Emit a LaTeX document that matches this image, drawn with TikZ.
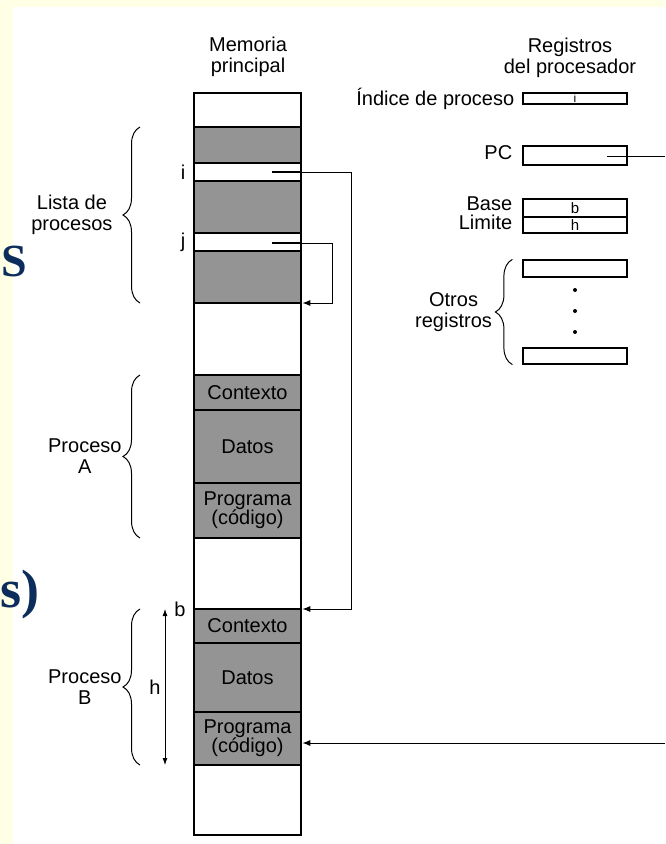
\documentclass[tikz,border=0pt]{standalone}
\usepackage{fontspec}
\setmainfont{Liberation Sans}
\newfontfamily\slidefont{Liberation Serif}
\usepackage{xcolor}
\usetikzlibrary{positioning, arrows.meta, decorations.pathreplacing, calc}
\definecolor{slidebg}{RGB}{255,255,229}
\definecolor{slidetxt}{RGB}{12,45,92}
\definecolor{cellgray}{RGB}{148,148,148}

\begin{document}
\begin{tikzpicture}[x=1pt, y=-1pt,
  font=\fontsize{20}{21}\selectfont,
  libre/.style={draw, line width=1.6pt, fill=white, minimum width=107pt, inner sep=0pt, outer sep=0pt},
  sombra/.style={libre, fill=cellgray, align=center, font=\fontsize{20}{19}\selectfont},
  reg/.style={draw, line width=1.2pt, minimum width=104pt, inner sep=0pt, font=\fontsize{15}{15}\selectfont},
  lbl/.style={inner sep=0pt, align=center},
  ptr/.style={line width=1pt, -{Latex[length=8pt, width=6pt]}},
  llave/.style={decorate, decoration={brace, amplitude=17pt}, line width=1pt}]

% Slide background
\useasboundingbox (0,0) rectangle (665,844);
\fill[slidebg] (0,0) rectangle (665,844);
\fill[white] (13,7) rectangle (665,844);
\node[slidetxt, font=\slidefont\bfseries\fontsize{46}{46}\selectfont, anchor=base west, inner sep=0pt] (frag1) at (1,276) {S};
\node[slidetxt, font=\slidefont\bfseries\fontsize{54}{54}\selectfont, anchor=base west, inner sep=0pt] (frag2) at (0,607) {s)};

% Memory column
\node[lbl] (memtit) at (248,57) {Memoria\\principal};
\foreach \n/\t/\b/\s/\txt in {
    libreA/93/127/libre/{}, listaA/127/163/sombra/{}, entI/163/181/libre/{},
    listaB/181/233/sombra/{}, entJ/233/251/libre/{}, listaC/251/303/sombra/{},
    libreB/303/375/libre/{},
    ctxA/375/410/sombra/{Contexto}, datA/410/483/sombra/{Datos}, prgA/483/538/sombra/{Programa\\(código)},
    libreC/538/609/libre/{},
    ctxB/609/643/sombra/{Contexto}, datB/643/712/sombra/{Datos}, prgB/712/765/sombra/{Programa\\(código)},
    libreD/765/835/libre/{}} {
    \node[\s, minimum height={(\b-\t)*1pt}] (\n) at (247.5,{(\t+\b)/2}) {\txt};
}
\draw[line width=2.6pt] (libreA.north west) rectangle (libreD.south east);
\node[lbl] (lbli) at ([xshift=-11pt]entI.west) {i};
\node[lbl] (lblj) at ([xshift=-11pt]entJ.west) {j};

% Braces on the left
\draw[llave] ([xshift=-54pt]listaC.south west) -- node[lbl, left=27pt] (lista) {Lista de\\procesos} ([xshift=-54pt]listaA.north west);
\draw[llave] ([xshift=-54pt]prgA.south west) -- node[lbl, left=18pt] (procA) {Proceso\\A} ([xshift=-54pt]ctxA.north west);
\draw[llave] ([xshift=-54pt]prgB.south west) -- node[lbl, left=18pt] (procB) {Proceso\\B} ([xshift=-54pt]ctxB.north west);

% Base and limit of process B
\draw[{Latex[length=7pt, width=5pt]}-{Latex[length=7pt, width=5pt]}, line width=0.8pt]
    ([xshift=-29pt]ctxB.north west) -- node[lbl, left=4pt] (lblh) {h} ([xshift=-29pt]prgB.south west);
\node[lbl] (lblb) at ([xshift=-14pt]ctxB.north west) {b};

% Processor registers
\node[lbl] (regtit) at (570,58) {Registros\\del procesador};
\node[reg, minimum height=11pt, font=\fontsize{12}{12}\selectfont] (idx) at (575,98.5) {i};
\node[reg, minimum height=19pt] (pc) at (575,155.5) {};
\node[reg, minimum height=18pt] (base) at (575,208) {b};
\node[reg, minimum height=16pt] (lim) at (575,225) {h};
\node[reg, minimum height=17pt] (regA) at (575,268.5) {};
\node[reg, minimum height=16pt] (regZ) at (575,356) {};
\foreach \y in {290,311,332} {
    \fill (575,\y) circle (2pt);
}
\node[lbl, left=8pt of idx] (lblidx) {Índice de proceso};
\node[lbl, left=10pt of pc, yshift=2.5pt] (lblpc) {PC};
\node[lbl, left=10pt of base, yshift=4.3pt] (lblbase) {Base};
\node[lbl, left=10pt of lim, yshift=2.8pt] (lbllim) {Limite};
\draw[llave] ([xshift=-10pt]regZ.south west) -- node[lbl, left=20pt] (otros) {Otros\\registros} ([xshift=-10pt]regA.north west);

% Pointers
\coordinate (pi) at (272,172);
\coordinate (ri) at (351,172);
\draw[line width=2pt] (pi) -- (entI.east |- pi);
\draw[ptr, shorten >=1.3pt] (entI.east |- pi) -- (ri) |- (ctxB.north east);
\coordinate (pj) at (272,243);
\coordinate (rj) at (332,243);
\draw[line width=2pt] (pj) -- (entJ.east |- pj);
\draw[ptr, shorten >=1.3pt] (entJ.east |- pj) -- (rj) |- (listaC.south east);
\coordinate (pcptr) at (607,156);
\coordinate (pcout) at (665,156);
\draw[line width=1pt] (pcptr) -- (pcout);
\coordinate (pcin) at (665,743);
\draw[ptr, shorten >=1.3pt] (pcin) -- (prgB.east |- pcin);

\end{tikzpicture}
\end{document}
